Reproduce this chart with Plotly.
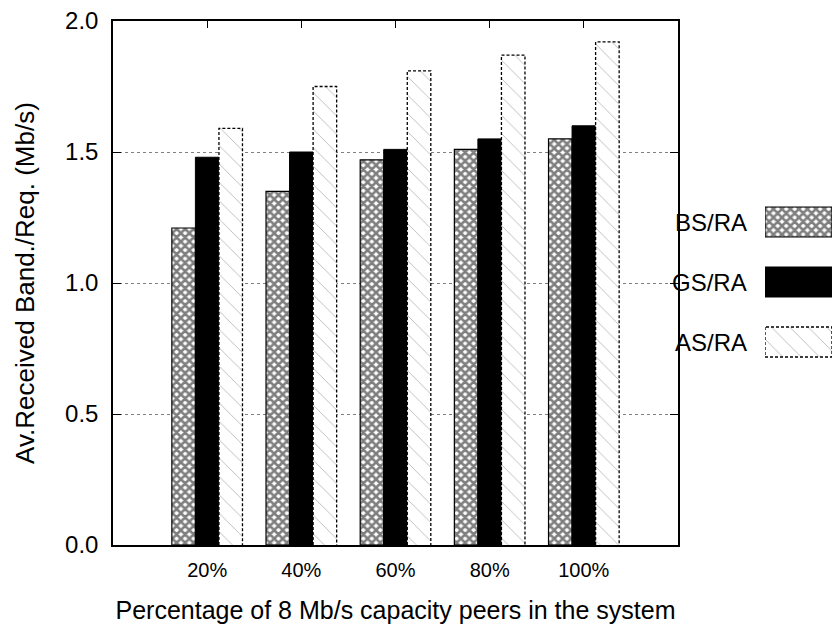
import plotly.graph_objects as go

# Share of 8 Mb/s capacity peers (x categories)
categories = ["20%", "40%", "60%", "80%", "100%"]
series_names = ["BS/RA", "GS/RA", "AS/RA"]

# Average received bandwidth / requested (Mb/s)
bs_ra = [1.21, 1.35, 1.47, 1.51, 1.55]
gs_ra = [1.48, 1.50, 1.51, 1.55, 1.60]
as_ra = [1.59, 1.75, 1.81, 1.87, 1.92]

y_ticks = [0.0, 0.5, 1.0, 1.5, 2.0]

FONT = "Liberation Sans, Arial, sans-serif"
BAR_W = 0.25          # each bar is a quarter of the cluster spacing
positions = list(range(len(categories)))

styles = {
    "BS/RA": dict(color="white",
                  line=dict(color="black", width=1.2),
                  pattern=dict(shape="x", size=6, solidity=0.68,
                               fgcolor="black", bgcolor="white")),
    "GS/RA": dict(color="black", line=dict(color="black", width=1)),
    "AS/RA": dict(color="white",
                  line=dict(color="black", width=0),
                  pattern=dict(shape="\\", size=13, solidity=0.07,
                               fgcolor="#777777", bgcolor="white")),
}

fig = go.Figure()

values = {"BS/RA": bs_ra, "GS/RA": gs_ra, "AS/RA": as_ra}
offsets = {"BS/RA": -BAR_W, "GS/RA": 0.0, "AS/RA": BAR_W}

for name in series_names:
    fig.add_trace(go.Bar(
        x=positions, y=values[name], name=name, width=BAR_W,
        offset=offsets[name] - BAR_W / 2,
        marker=styles[name], showlegend=False, xaxis="x", yaxis="y",
    ))

# dashed outline of the AS/RA bars
ox, oy = [], []
for p, v in zip(positions, as_ra):
    x0 = p + offsets["AS/RA"] - BAR_W / 2
    x1 = x0 + BAR_W
    ox += [x0, x0, x1, x1, None]
    oy += [0, v, v, 0, None]
fig.add_trace(go.Scatter(x=ox, y=oy, mode="lines", showlegend=False,
                         line=dict(color="black", width=1.3, dash="3px,2px"),
                         hoverinfo="skip", xaxis="x", yaxis="y"))

# key: one swatch per series, drawn on its own small axes
rows = list(range(len(series_names)))
for r, name in zip(rows, series_names):
    fig.add_trace(go.Bar(
        x=[1], y=[r], base=[0], orientation="h", width=0.5,
        marker=styles[name], showlegend=False, xaxis="x2", yaxis="y2",
        hoverinfo="skip",
    ))
    fig.add_annotation(text=name, xref="paper", yref="y2", x=0.883, y=r,
                       xanchor="right", yanchor="middle", showarrow=False,
                       font=dict(family=FONT, size=24, color="black"))
r_as = series_names.index("AS/RA")
fig.add_trace(go.Scatter(
    x=[0, 0, 1, 1, 0], y=[r_as - 0.25, r_as + 0.25, r_as + 0.25, r_as - 0.25, r_as - 0.25],
    mode="lines", line=dict(color="black", width=1.3, dash="3px,2px"),
    showlegend=False, hoverinfo="skip", xaxis="x2", yaxis="y2"))

fig.update_layout(
    width=835, height=626,
    margin=dict(l=113, r=2, t=21, b=81),
    plot_bgcolor="white", paper_bgcolor="white",
    barmode="overlay",
    font=dict(family=FONT, size=24, color="black"),
    xaxis=dict(
        domain=[0, 565 / 720], range=[-1, 5],
        tickmode="array", tickvals=positions, ticktext=categories,
        ticks="inside", ticklen=7, tickcolor="black",
        showline=True, linecolor="black", linewidth=1.5, mirror="ticks",
        showgrid=False, zeroline=False, ticklabelstandoff=6,
        tickfont=dict(family=FONT, size=20),
        title=dict(text="Percentage of 8 Mb/s capacity peers in the system",
                   font=dict(family=FONT, size=25), standoff=22),
    ),
    yaxis=dict(
        range=[0, 2], tickmode="array", tickvals=y_ticks,
        ticktext=[f"{t:.1f}" for t in y_ticks],
        ticks="inside", ticklen=8, tickcolor="black",
        showline=True, linecolor="black", linewidth=1.5, mirror="ticks",
        showgrid=True, gridcolor="#808080", griddash="dot", gridwidth=1,
        zeroline=False, ticklabelstandoff=8,
        tickfont=dict(family=FONT, size=24),
        title=dict(text="Av.Received Band./Req. (Mb/s)",
                   font=dict(family=FONT, size=26), standoff=23),
    ),
    xaxis2=dict(domain=[652 / 720, 719 / 720], range=[0, 1], anchor="y2",
                visible=False, fixedrange=True),
    yaxis2=dict(domain=[(545 - 372) / 524, (545 - 192) / 524],
                range=[2.5, -0.5], anchor="x2", visible=False, fixedrange=True),
)

fig.write_html("out.html")
